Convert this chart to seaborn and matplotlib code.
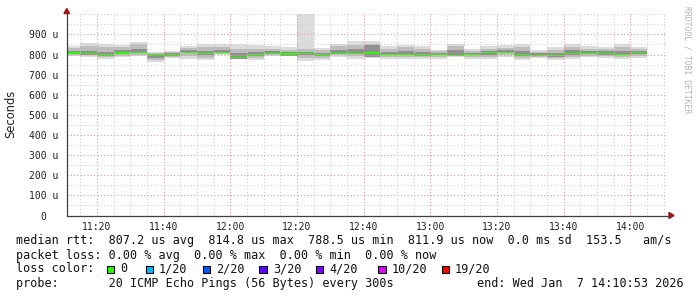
import numpy as np
import pandas as pd
import matplotlib
matplotlib.use("Agg")
import matplotlib.pyplot as plt
import matplotlib.dates as mdates
from matplotlib.patches import Rectangle, Polygon
import seaborn as sns

# ---------------- data ----------------
day = "2026-01-07"
bar_start = pd.date_range(f"{day} 11:10", periods=35, freq="5min")
ping_max = [842, 859, 854, 845, 862, 815, 820, 842, 854, 854, 850, 845, 840, 837, 1000,
            834, 854, 865, 865, 842, 849, 842, 825, 854, 829, 842, 845, 854, 825, 837,
            854, 842, 837, 854, 837]
ping_min = [792, 787, 776, 786, 792, 762, 784, 779, 771, 796, 779, 774, 791, 791, 767,
            771, 788, 779, 782, 776, 779, 779, 779, 788, 779, 779, 788, 771, 782, 771,
            779, 788, 782, 776, 782]
mid_hi = [832, 840, 838, 835, 850, 808, 812, 832, 838, 835, 830, 828, 828, 825, 830,
          822, 840, 848, 852, 830, 835, 830, 818, 840, 820, 830, 832, 838, 815, 825,
          838, 830, 828, 838, 828]
mid_lo = [798, 797, 788, 795, 800, 775, 790, 795, 785, 803, 785, 785, 798, 797, 785,
          785, 798, 795, 790, 790, 790, 790, 790, 795, 790, 790, 798, 785, 790, 782,
          790, 795, 792, 788, 792]
core_hi = [820, 818, 815, 822, 830, 800, 808, 825, 820, 825, 810, 815, 818, 815, 815,
           810, 825, 830, 845, 815, 818, 812, 810, 825, 810, 818, 822, 820, 808, 810,
           825, 818, 818, 818, 818]
core_lo = [804, 800, 795, 803, 808, 785, 795, 808, 798, 808, 780, 795, 803, 795, 800,
           793, 805, 802, 788, 798, 798, 795, 797, 798, 796, 798, 808, 795, 795, 790,
           800, 803, 800, 797, 803]
median = [811, 807, 802, 811, 814, 803, 802, 815, 807, 814, 788.5, 805, 810, 806, 809,
          803, 810, 810, 811, 805, 805, 803, 805, 800, 802, 812, 814.8, 805, 800, 800,
          810, 810, 810, 805, 811.9]

x_tick_labels = ["11:20", "11:40", "12:00", "12:20", "12:40", "13:00", "13:20", "13:40", "14:00"]
y_ticks = [0, 100, 200, 300, 400, 500, 600, 700, 800, 900]
y_tick_labels = ["0  ", "100 u", "200 u", "300 u", "400 u", "500 u", "600 u", "700 u", "800 u", "900 u"]

loss_labels = ["0", "1/20", "2/20", "3/20", "4/20", "10/20", "19/20"]
loss_colors = ["#26ff00", "#00b8ff", "#0059ff", "#5e00ff", "#7e00ff", "#dd00ff", "#ff0000"]

line_rtt = "median rtt:  807.2 us avg  814.8 us max  788.5 us min  811.9 us now  0.0 ms sd  153.5   am/s"
line_loss = "packet loss: 0.00 % avg  0.00 % max  0.00 % min  0.00 % now"
line_color = "loss color:"
line_probe = "probe:       20 ICMP Echo Pings (56 Bytes) every 300s"
line_end = "end: Wed Jan  7 14:10:53 2026"

# ---------------- figure ----------------
sns.set_theme(style="white")
plt.rcParams["font.family"] = ["DejaVu Sans Mono", "DejaVu Sans"]

W, H = 697, 297
fig = plt.figure(figsize=(W / 100, H / 100), dpi=100, facecolor="white")
fx = lambda px: px / W
fy = lambda py: 1 - py / H

L, R, T, B = 66.6, 666.6, 14.3, 215.5
ax = fig.add_axes([fx(L), fy(B), fx(R) - fx(L), fy(T) - fy(B)])
ax.set_facecolor("white")

df = pd.DataFrame({"t": bar_start, "max": ping_max, "min": ping_min, "mh": mid_hi,
                   "ml": mid_lo, "ch": core_hi, "cl": core_lo, "med": median})
xs = mdates.date2num(df["t"])
wd = 5 / 1440.0

ax.bar(xs, df["max"] - df["min"], bottom=df["min"], width=wd, align="edge",
       color="#dcdcdc", linewidth=0, zorder=1)
ax.bar(xs, df["mh"] - df["ml"], bottom=df["ml"], width=wd, align="edge",
       color="#bdbdbd", linewidth=0, zorder=1.1)
ax.bar(xs, df["ch"] - df["cl"], bottom=df["cl"], width=wd, align="edge",
       color="#909090", linewidth=0, zorder=1.2)
ax.bar(xs, [6.5] * len(df), bottom=df["med"] - 6.5, width=wd, align="edge",
       color=loss_colors[0], linewidth=0, zorder=1.3)

t0 = pd.Timestamp(f"{day} 11:10:53")
t1 = pd.Timestamp(f"{day} 14:10:53")
ax.set_xlim(mdates.date2num(t0), mdates.date2num(t1))
ax.set_ylim(0, 1000)

# grid / ticks
xt = mdates.date2num(pd.to_datetime([f"{day} {s}" for s in x_tick_labels]))
ax.set_xticks(xt)
ax.set_xticklabels(x_tick_labels)
ax.xaxis.set_minor_locator(mdates.MinuteLocator(byminute=range(0, 60, 5)))
ax.set_yticks(y_ticks)
ax.set_yticklabels(y_tick_labels)
ax.yaxis.set_minor_locator(matplotlib.ticker.MultipleLocator(50))

dots = (0, (1, 2))
ax.grid(which="minor", axis="both", color="#cfcfcf", linestyle=dots, linewidth=0.8)
ax.grid(which="major", axis="both", color="#e89a9a", linestyle=dots, linewidth=0.8)
ax.set_axisbelow(False)

ax.tick_params(axis="both", which="major", length=3, width=0.8, color="#404040",
               labelsize=7, labelcolor="#202020", direction="out")
ax.tick_params(axis="both", which="minor", length=2, width=0.8, color="#404040", direction="out")
ax.tick_params(axis="y", which="major", pad=3)
ax.tick_params(axis="x", which="major", pad=1.5)
for sp in ax.spines.values():
    sp.set_visible(False)

# axis lines with arrows
fig.add_artist(plt.Line2D([fx(L), fx(L)], [fy(B), fy(12)], transform=fig.transFigure,
                          color="#404040", lw=0.9))
fig.add_artist(plt.Line2D([fx(L), fx(669.5)], [fy(B), fy(B)], transform=fig.transFigure,
                          color="#404040", lw=0.9))
fig.add_artist(Polygon([(fx(64), fy(13.5)), (fx(69.5), fy(13.5)), (fx(66.7), fy(8.5))],
                       closed=True, transform=fig.transFigure, color="#a01010"))
fig.add_artist(Polygon([(fx(669), fy(212.5)), (fx(669), fy(218.5)), (fx(674), fy(B))],
                       closed=True, transform=fig.transFigure, color="#a01010"))

# labels
fig.text(fx(11), fy(113.5), "Seconds", rotation=90, va="center", ha="center",
         fontsize=8.3, family="DejaVu Sans", color="#202020")
fig.text(fx(687.5), fy(60), "RRDTOOL / TOBI OETIKER", rotation=270, va="center",
         ha="center", fontsize=5.8, color="#b4b4b4")

mono = dict(family="DejaVu Sans Mono", fontsize=8.5, color="#111111", va="center", ha="left")
fig.text(fx(15.5), fy(240.7), line_rtt, **mono)
fig.text(fx(15.5), fy(255), line_loss, **mono)
fig.text(fx(15.5), fy(269), line_color, **mono)
fig.text(fx(15.5), fy(283.7), line_probe, **mono)
fig.text(fx(477), fy(283.7), line_end, **mono)

sq_x = [107.3, 145.7, 202.7, 259.3, 316.0, 378.3, 441.7]
for x0, lab, col in zip(sq_x, loss_labels, loss_colors):
    fig.add_artist(Rectangle((fx(x0), fy(272.7)), 7.2 / W, 7.0 / H,
                             transform=fig.transFigure, facecolor=col,
                             edgecolor="black", linewidth=0.8))
    fig.text(fx(x0 + 13.4), fy(269), lab, **mono)

fig.savefig("out.png", dpi=100, facecolor="white")
